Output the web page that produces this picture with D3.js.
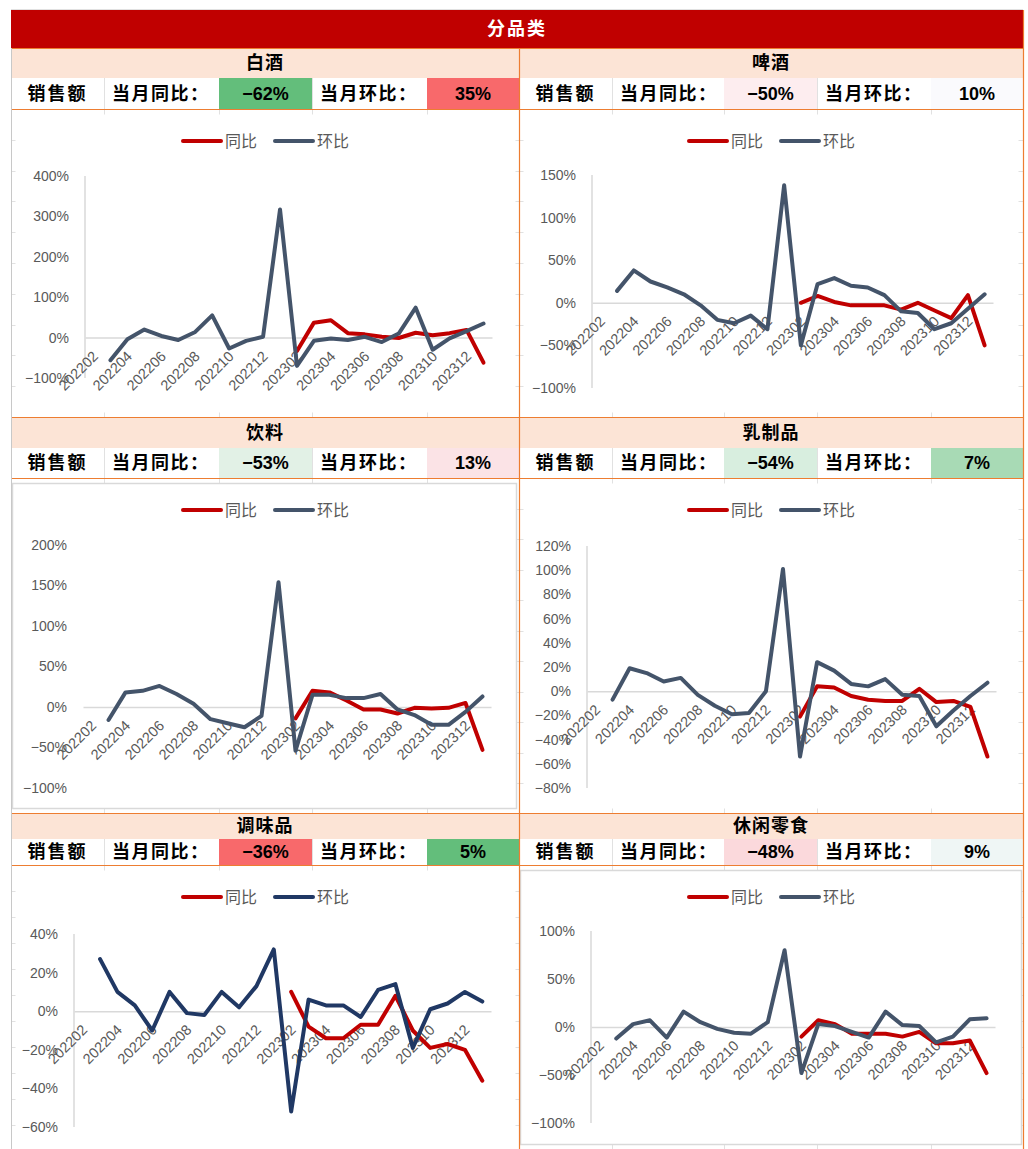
<!DOCTYPE html>
<html>
<head>
<meta charset="utf-8">
<script src="https://cdn.jsdelivr.net/npm/d3@7"></script>
<style>
  body { margin: 0; background: #fff; }
  svg { display: block; }
  text { font-family: "Liberation Sans", Arial, sans-serif; }
  .cjk { font-family: "Noto Sans CJK SC", sans-serif; }
</style>
</head>
<body>
<div id="board"></div>
<script>
// 月份 202202 ~ 202401
const months = ['202202','202203','202204','202205','202206','202207','202208','202209','202210','202211','202212','202301',
                '202302','202303','202304','202305','202306','202307','202308','202309','202310','202311','202312','202401'];
const panelNames = ['白酒', '啤酒', '饮料', '乳制品', '调味品', '休闲零食'];

// 环比 (%), 202202 无数据
const baijiuHb = [null,-56,-4,20,4,-6,14,55,-27,-8,2,317,-70,-8,-2,-6,2,-11,10,74,-30,-2,16,35];
const pijiuHb  = [null,14,38,25,18,10,-3,-20,-24,-15,-31,138,-50,22,29,20,18,9,-10,-12,-31,-24,-7,10];
const yinliaoHb = [null,-16,18,20,26,16,4,-15,-20,-25,-11,154,-54,15,15,11,11,16,-3,-10,-22,-22,-6,13];
const ruzhipinHb = [null,-7,19,15,8,11,-3,-12,-19,-18,0,101,-54,24,17,6,4,10,-3,-4,-29,-16,-4,7];
const tiaoweipinHb = [null,27,10,3,-10,10,-1,-2,10,2,13,32,-52,6,3,3,-3,11,14,-19,1,4,10,5];
const lingshiHb = [null,-12,3,7,-11,16,5,-2,-6,-7,5,80,-48,3,1,-5,-11,16,2,1,-16,-10,8,9];

// 同比 (%), 从 202302 开始
const baijiuTb = [null,null,null,null,null,null,null,null,null,null,null,null,-33,37,43,11,8,2,-1,12,6,11,19,-62];
const pijiuTb  = [null,null,null,null,null,null,null,null,null,null,null,null,0,8,1,-3,-3,-3,-8,0,-9,-18,9,-50];
const yinliaoTb = [null,null,null,null,null,null,null,null,null,null,null,null,-14,20,18,8,-3,-3,-8,-1,-2,-1,5,-53];
const ruzhipinTb = [null,null,null,null,null,null,null,null,null,null,null,null,-21,4,3,-4,-7,-8,-8,2,-9,-8,-13,-54];
const tiaoweipinTb = [null,null,null,null,null,null,null,null,null,null,null,null,10,-8,-14,-14,-7,-7,8,-10,-19,-17,-20,-36];
const lingshiTb = [null,null,null,null,null,null,null,null,null,null,null,null,-10,7,3,-7,-7,-7,-10,-5,-17,-17,-14,-48];

// 纵轴刻度
const baijiuTicks = [-100,0,100,200,300,400];
const pijiuTicks = [-100,-50,0,50,100,150];
const yinliaoTicks = [-100,-50,0,50,100,150,200];
const ruzhipinTicks = [-80,-60,-40,-20,0,20,40,60,80,100,120];
const tiaoweipinTicks = [-60,-40,-20,0,20,40];
const lingshiTicks = [-100,-50,0,50,100];

const hbSeries = [baijiuHb, pijiuHb, yinliaoHb, ruzhipinHb, tiaoweipinHb, lingshiHb];
const tbSeries = [baijiuTb, pijiuTb, yinliaoTb, ruzhipinTb, tiaoweipinTb, lingshiTb];
const tickSets = [baijiuTicks, pijiuTicks, yinliaoTicks, ruzhipinTicks, tiaoweipinTicks, lingshiTicks];

// 版面 (像素)
const W = 1028, H = 1149;
const colsL = [11, 104, 219, 312, 427, 519];
const colsR = [519, 612, 724, 817, 931, 1023];
const rows = [
  {top: 48, nameH: 30, statH: 31, bottom: 417, gridStep: 30.8},
  {top: 417, nameH: 31, statH: 30, bottom: 813, gridStep: 30.5},
  {top: 813, nameH: 26, statH: 26, bottom: 1149, gridStep: 26}
];
const layout = [
  {col: colsL, row: 0, box: [15, 114, 515, 412], border: false, plot: [85, 492, 176, 378], yAxisLine: true, tbColor: '#63BE7B', hbColor: '#F8696B', hbLine: '#44546A'},
  {col: colsR, row: 0, box: [523, 114, 1018, 412], border: false, plot: [592, 993, 175, 388], yAxisLine: true, tbColor: '#FDEDEF', hbColor: '#FAFAFD', hbLine: '#44546A'},
  {col: colsL, row: 1, box: [12, 483, 516, 808], border: true, plot: [83, 491, 545, 788], yAxisLine: false, tbColor: '#E2F1E6', hbColor: '#FBE3E6', hbLine: '#44546A'},
  {col: colsR, row: 1, box: [523, 483, 1018, 808], border: false, plot: [587, 996, 546, 788], yAxisLine: true, tbColor: '#D8EEDF', hbColor: '#A8DAB5', hbLine: '#44546A'},
  {col: colsL, row: 2, box: [15, 870, 515, 1152], border: false, plot: [74, 491, 934, 1127], yAxisLine: true, tbColor: '#F8696B', hbColor: '#63BE7B', hbLine: '#203864'},
  {col: colsR, row: 2, box: [520, 870, 1021, 1144], border: true, plot: [591, 995, 931, 1123], yAxisLine: true, tbColor: '#FBD9DC', hbColor: '#EFF6F5', hbLine: '#44546A'}
];

const red = '#C00000', peach = '#FCE4D6', orange = '#ED7D31', grid = '#E1E1E1', labelGray = '#595959';

const svg = d3.select('#board').append('svg').attr('width', W).attr('height', H);

// 表格网格线
const gridG = svg.append('g').attr('stroke', grid).attr('stroke-width', 1);
colsL.concat(colsR.slice(1)).forEach(x => {
  gridG.append('line').attr('x1', x + 0.5).attr('x2', x + 0.5).attr('y1', 10).attr('y2', H);
});
gridG.append('line').attr('x1', 11).attr('x2', 1023).attr('y1', 9.5).attr('y2', 9.5);
rows.forEach(r => {
  d3.range(r.top + r.nameH + r.statH + r.gridStep, r.bottom, r.gridStep).forEach(y => {
    gridG.append('line').attr('x1', 11).attr('x2', 1023).attr('y1', Math.round(y) + 0.5).attr('y2', Math.round(y) + 0.5);
  });
});

// 标题
svg.append('rect').attr('x', 11).attr('y', 10).attr('width', 1012).attr('height', 38).attr('fill', red);
svg.append('text').attr('class', 'cjk').attr('x', 517).attr('y', 29).attr('dy', '0.35em')
  .attr('text-anchor', 'middle').attr('fill', '#fff').attr('font-size', 18).attr('font-weight', 700)
  .attr('letter-spacing', 2).text('分品类');

const fmt = d => d3.format('d')(d) + '%';

layout.forEach((p, k) => {
  const r = rows[p.row];
  const c = p.col;
  const nameY = r.top, statY = r.top + r.nameH, chartY = statY + r.statH;
  const g = svg.append('g');

  // 品类名
  g.append('rect').attr('x', c[0]).attr('y', nameY).attr('width', c[5] - c[0]).attr('height', r.nameH).attr('fill', peach);
  g.append('text').attr('class', 'cjk').attr('x', (c[0] + c[5]) / 2).attr('y', nameY + r.nameH / 2).attr('dy', '0.35em')
    .attr('text-anchor', 'middle').attr('font-size', 18).attr('font-weight', 700).attr('letter-spacing', 1)
    .attr('fill', '#000').text(panelNames[k]);

  // 当月同比 / 环比
  const hb = hbSeries[k], tb = tbSeries[k];
  const last = arr => arr[arr.length - 1];
  g.append('rect').attr('x', c[2]).attr('y', statY).attr('width', c[3] - c[2]).attr('height', r.statH).attr('fill', p.tbColor);
  g.append('rect').attr('x', c[4]).attr('y', statY).attr('width', c[5] - c[4]).attr('height', r.statH).attr('fill', p.hbColor);
  const midY = statY + r.statH / 2;
  const stat = (x, anchor, txt, cls) => g.append('text').attr('class', cls).attr('x', x).attr('y', midY).attr('dy', '0.36em')
    .attr('text-anchor', anchor).attr('font-size', 18).attr('font-weight', 700).attr('fill', '#000').text(txt);
  stat((c[0] + c[1]) / 2, 'middle', '销售额', 'cjk').attr('letter-spacing', 2);
  stat(c[1] + 8, 'start', '当月同比：', 'cjk').attr('letter-spacing', 1.5);
  stat((c[2] + c[3]) / 2, 'middle', fmt(last(tb)), '');
  stat(c[3] + 8, 'start', '当月环比：', 'cjk').attr('letter-spacing', 1.5);
  stat((c[4] + c[5]) / 2, 'middle', fmt(last(hb)), '');

  // 图表区
  const b = p.box;
  g.append('rect').attr('x', b[0] + 0.5).attr('y', b[1] + 0.5).attr('width', b[2] - b[0]).attr('height', b[3] - b[1])
    .attr('fill', '#fff').attr('stroke', p.border ? '#D9D9D9' : 'none').attr('stroke-width', 1.5);

  // 图例
  const legY = chartY + 32;
  const cx = (c[0] + c[5]) / 2;
  const leg = g.append('g').attr('transform', `translate(${cx - 82},${legY})`);
  [['同比', red, 0], ['环比', p.hbLine, 92]].forEach(([lab, col, off]) => {
    leg.append('line').attr('x1', off).attr('x2', off + 38).attr('stroke', col).attr('stroke-width', 4).attr('stroke-linecap', 'round');
    leg.append('text').attr('class', 'cjk').attr('x', off + 42).attr('dy', '0.35em').attr('font-size', 16)
      .attr('fill', labelGray).text(lab);
  });

  // 比例尺
  const [x0, x1, yT, yB] = p.plot;
  const ticks = tickSets[k];
  const x = d3.scaleBand().domain(months).range([x0, x1]);
  const y = d3.scaleLinear().domain(d3.extent(ticks)).range([yB, yT]);
  const xc = m => x(m) + x.bandwidth() / 2;

  if (p.yAxisLine) {
    g.append('line').attr('x1', x0).attr('x2', x0).attr('y1', yT).attr('y2', yB).attr('stroke', '#D9D9D9').attr('stroke-width', 1.5);
  }

  const ya = g.append('g').attr('transform', `translate(${x0},0)`)
    .call(d3.axisLeft(y).tickValues(ticks).tickFormat(fmt).tickSize(0).tickPadding(16));
  ya.select('.domain').remove();
  ya.selectAll('text').attr('font-size', 14).attr('fill', labelGray).attr('font-family', '"Liberation Sans", Arial, sans-serif');

  const xa = g.append('g').attr('transform', `translate(0,${y(0)})`)
    .call(d3.axisBottom(x).tickValues(months.filter((m, i) => i % 2 === 0)).tickSize(0).tickSizeOuter(0));
  xa.select('.domain').attr('stroke', '#D9D9D9').attr('stroke-width', 1.5);
  xa.selectAll('text')
    .attr('x', 0).attr('y', 0).attr('dy', '0.35em')
    .attr('text-anchor', 'end')
    .attr('transform', 'translate(2,16) rotate(-45)')
    .attr('font-size', 14.5).attr('fill', labelGray).attr('font-family', '"Liberation Sans", Arial, sans-serif');

  const line = d3.line().defined(d => d.v !== null).x(d => xc(d.m)).y(d => y(d.v));
  const toPts = arr => months.map((m, i) => ({m: m, v: arr[i]}));

  g.append('path').attr('d', line(toPts(tb))).attr('fill', 'none').attr('stroke', red)
    .attr('stroke-width', 4).attr('stroke-linejoin', 'round').attr('stroke-linecap', 'round');
  g.append('path').attr('d', line(toPts(hb))).attr('fill', 'none').attr('stroke', p.hbLine)
    .attr('stroke-width', 4).attr('stroke-linejoin', 'round').attr('stroke-linecap', 'round');
});

// 边框线
const edge = svg.append('g').attr('stroke', orange).attr('stroke-width', 1.2);
rows.forEach(r => {
  [r.top, r.top + r.nameH + r.statH].forEach(yy => {
    edge.append('line').attr('x1', 11).attr('x2', 1023).attr('y1', yy + 0.5).attr('y2', yy + 0.5);
  });
});
edge.append('line').attr('x1', 519.5).attr('x2', 519.5).attr('y1', 48).attr('y2', H);
edge.append('line').attr('x1', 1023.5).attr('x2', 1023.5).attr('y1', 10).attr('y2', H);
svg.append('line').attr('x1', 11.5).attr('x2', 11.5).attr('y1', 48).attr('y2', H).attr('stroke', '#C8C8C8');
</script>
</body>
</html>
